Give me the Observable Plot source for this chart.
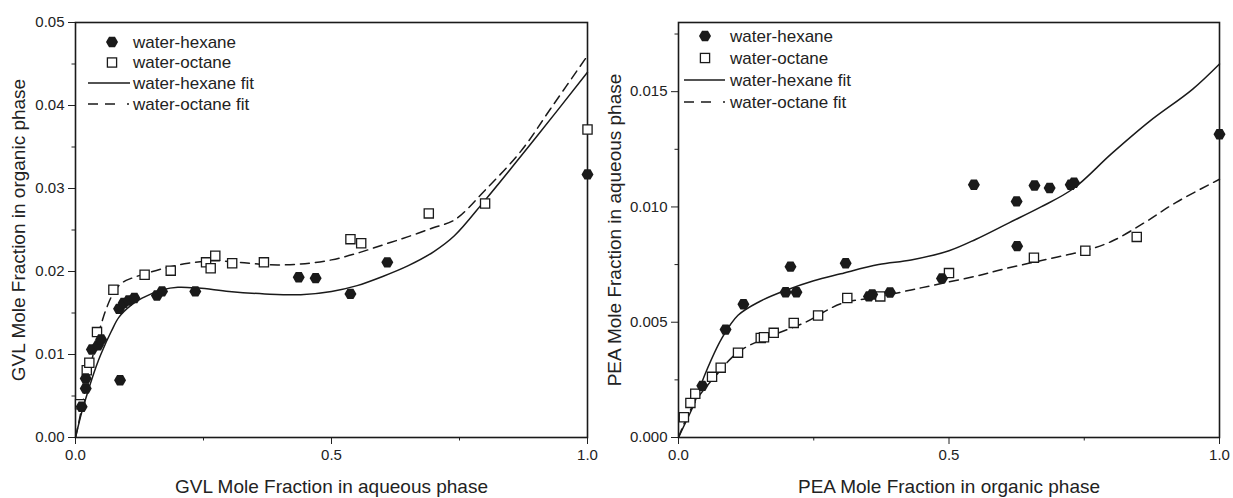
<!DOCTYPE html>
<html><head><meta charset="utf-8">
<script src="https://cdn.jsdelivr.net/npm/d3@7"></script>
<script src="https://cdn.jsdelivr.net/npm/@observablehq/plot@0.6"></script>
<style>
body{margin:0;background:#fff;}
#wrap{position:relative;width:1233px;height:498px;overflow:hidden;font-family:"Liberation Sans",Arial,sans-serif;background:#fff;}
.panel{position:absolute;top:0;}
.legend{position:absolute;top:0;overflow:visible;}
.legend text{font-family:"Liberation Sans",Arial,sans-serif;font-size:17px;fill:#222;}
</style></head>
<body><div id="wrap"></div>
<script>
// ---------- Left panel: GVL ----------
const gvlHexX = [0.012,0.020,0.020,0.032,0.044,0.050,0.087,0.085,0.094,0.104,0.115,0.159,0.169,0.234,0.436,0.469,0.537,0.609,1.0];
const gvlHexY = [0.0037,0.0059,0.0071,0.0106,0.0111,0.0118,0.0069,0.0155,0.0162,0.0165,0.0168,0.0171,0.0176,0.0176,0.0193,0.0192,0.0173,0.0211,0.0317];
const gvlOctX = [0.009,0.022,0.027,0.042,0.074,0.135,0.186,0.255,0.264,0.273,0.306,0.368,0.537,0.558,0.690,0.800,1.0];
const gvlOctY = [0.0040,0.0081,0.0090,0.0127,0.0178,0.0196,0.0201,0.0211,0.0204,0.0219,0.0210,0.0211,0.0239,0.0234,0.0270,0.0282,0.0371];
const gvlHexFitX = [0,0.005,0.012,0.025,0.04,0.05,0.07,0.085,0.11,0.13,0.17,0.2,0.24,0.3,0.37,0.44,0.5,0.55,0.6,0.65,0.7,0.74,0.8,0.9,1.0];
const gvlHexFitY = [0,0.0013,0.003,0.0057,0.0085,0.0101,0.0128,0.0145,0.0160,0.0168,0.0178,0.0181,0.0180,0.0176,0.0173,0.0172,0.0176,0.0183,0.0194,0.0207,0.0224,0.0243,0.0286,0.0362,0.0440];
const gvlOctFitX = [0,0.005,0.01,0.02,0.03,0.04,0.05,0.06,0.074,0.09,0.11,0.14,0.18,0.22,0.27,0.32,0.38,0.44,0.5,0.55,0.6,0.65,0.7,0.74,0.8,0.87,0.93,1.0];
const gvlOctFitY = [0,0.0014,0.0029,0.0060,0.0088,0.0114,0.0136,0.0155,0.0174,0.0186,0.0192,0.0198,0.0205,0.0210,0.0213,0.0211,0.0208,0.0209,0.0214,0.0222,0.0232,0.0242,0.0253,0.0262,0.0298,0.0345,0.0398,0.0460];
const gvlYTicks = [0,0.01,0.02,0.03,0.04,0.05];
const gvlYMinor = [0.005,0.015,0.025,0.035,0.045];

// ---------- Right panel: PEA ----------
const peaHexX = [0.044,0.087,0.120,0.198,0.207,0.218,0.309,0.352,0.358,0.391,0.487,0.546,0.625,0.626,0.658,0.686,0.725,0.731,1.0];
const peaHexY = [0.00224,0.00468,0.00578,0.00630,0.00741,0.00630,0.00756,0.00612,0.00620,0.00629,0.00690,0.01096,0.01024,0.00830,0.01093,0.01082,0.01096,0.01105,0.01315];
const peaOctX = [0.010,0.022,0.031,0.062,0.078,0.110,0.152,0.158,0.176,0.213,0.258,0.312,0.373,0.500,0.657,0.752,0.847];
const peaOctY = [0.00088,0.00150,0.00190,0.00263,0.00303,0.00368,0.00432,0.00435,0.00454,0.00497,0.00529,0.00605,0.00612,0.00713,0.00780,0.00810,0.00870];
const peaHexFitX = [0,0.01,0.026,0.05,0.08,0.11,0.15,0.2,0.25,0.3,0.37,0.43,0.5,0.55,0.61,0.67,0.73,0.8,0.87,0.95,1.0];
const peaHexFitY = [0,0.0005,0.0013,0.0028,0.0043,0.0053,0.0059,0.0064,0.0068,0.0071,0.0075,0.0077,0.0081,0.0086,0.0093,0.0100,0.0108,0.0123,0.0137,0.0151,0.0162];
const peaOctFitX = [0,0.0074,0.02,0.038,0.066,0.11,0.16,0.235,0.3,0.37,0.43,0.47,0.55,0.6,0.675,0.75,0.8,0.86,0.92,1.0];
const peaOctFitY = [0,0.00044,0.0011,0.0018,0.0026,0.0037,0.0043,0.0050,0.0058,0.0061,0.0064,0.0066,0.0070,0.0073,0.0077,0.0081,0.0085,0.0093,0.0102,0.0112];
const peaYTicks = [0,0.005,0.010,0.015];
const peaYMinor = [0.0025,0.0075,0.0125,0.0175];

const xTicks = [0,0.5,1.0];
const xMinor = [0.25,0.75];
const legendLabels = ["water-hexane","water-octane","water-hexane fit","water-octane fit"];

// symbols
const hexFlat = {draw(ctx,size){const r=Math.sqrt(size/Math.PI);for(let i=0;i<6;i++){const a=i*Math.PI/3,x=r*Math.cos(a),y=r*Math.sin(a);i?ctx.lineTo(x,y):ctx.moveTo(x,y);}ctx.closePath();}};
const sq = {draw(ctx,size){const r=Math.sqrt(size/Math.PI);ctx.rect(-r,-r,2*r,2*r);}};

const zip = (xs,ys)=>xs.map((x,i)=>({x,y:ys[i]}));
const INK = "#1a1a1a";

function panel(o){
  return Plot.plot({
    width:o.width, height:498,
    marginLeft:o.ml, marginRight:o.mr, marginTop:22, marginBottom:61,
    style:{fontFamily:"Liberation Sans, Arial, sans-serif", fontSize:"15px", color:"#222", background:"white", overflow:"visible"},
    x:{domain:[0,1]},
    y:{domain:o.yDomain},
    marks:[
      Plot.axisX({ticks:xTicks, tickFormat:d3.format(".1f"), tickSize:7, tickPadding:5, label:null}),
      Plot.axisX({ticks:xMinor, tickFormat:()=>"", tickSize:3.5, label:null}),
      Plot.axisY({ticks:o.yTicks, tickFormat:d3.format(o.fmt), tickSize:7, tickPadding:4, label:null}),
      Plot.axisY({ticks:o.yMinor, tickFormat:()=>"", tickSize:3.5, label:null}),
      Plot.frame({stroke:INK, strokeWidth:1.6}),
      Plot.line(zip(o.hexFitX,o.hexFitY),{x:"x",y:"y",stroke:INK,strokeWidth:1.5,curve:"catmull-rom"}),
      Plot.line(zip(o.octFitX,o.octFitY),{x:"x",y:"y",stroke:INK,strokeWidth:1.5,strokeDasharray:"9,6",curve:"catmull-rom"}),
      Plot.dot(zip(o.octX,o.octY),{x:"x",y:"y",symbol:sq,r:4.6,fill:"white",stroke:INK,strokeWidth:1.3}),
      Plot.dot(zip(o.hexX,o.hexY),{x:"x",y:"y",symbol:hexFlat,r:6,fill:INK,stroke:"none"}),
      Plot.text([o.xLabel],{frameAnchor:"bottom",dy:55,lineAnchor:"bottom",textAnchor:"middle",fontSize:19,fill:"#222"}),
      Plot.text([o.yLabel],{frameAnchor:"left",dx:o.yLabDx,rotate:-90,textAnchor:"middle",lineAnchor:"middle",fontSize:19,fill:"#222"})
    ]
  });
}

function legend(left, o){
  const ns="http://www.w3.org/2000/svg";
  const svg=document.createElementNS(ns,"svg");
  svg.setAttribute("class","legend");
  svg.setAttribute("width",300);svg.setAttribute("height",130);
  svg.style.left=left+"px";
  const rows=o.rows;
  let s="";
  const hp=[];for(let i=0;i<6;i++){const a=i*Math.PI/3;hp.push([o.mx+6*Math.cos(a),rows[0]+6*Math.sin(a)].join(","));}
  s+=`<polygon points="${hp.join(" ")}" fill="${INK}"/>`;
  s+=`<rect x="${o.mx-4.6}" y="${rows[1]-4.6}" width="9.2" height="9.2" fill="white" stroke="${INK}" stroke-width="1.3"/>`;
  s+=`<line x1="${o.l0}" x2="${o.l1}" y1="${rows[2]}" y2="${rows[2]}" stroke="${INK}" stroke-width="1.5"/>`;
  s+=`<line x1="${o.l0}" x2="${o.l1}" y1="${rows[3]}" y2="${rows[3]}" stroke="${INK}" stroke-width="1.5" stroke-dasharray="10,7,10,12,2"/>`;
  legendLabels.forEach((t,i)=>{s+=`<text x="${o.tx}" y="${rows[i]}" dy="0.35em">${t}</text>`;});
  svg.innerHTML=s;
  return svg;
}

const wrap=document.getElementById("wrap");
const left=panel({width:600, ml:75, mr:13, yDomain:[0,0.05], yTicks:gvlYTicks, yMinor:gvlYMinor, fmt:".2f",
  hexX:gvlHexX,hexY:gvlHexY,octX:gvlOctX,octY:gvlOctY,hexFitX:gvlHexFitX,hexFitY:gvlHexFitY,octFitX:gvlOctFitX,octFitY:gvlOctFitY,
  xLabel:"GVL Mole Fraction in aqueous phase", yLabel:"GVL Mole Fraction in organic phase", yLabDx:-57});
left.classList.add("panel"); left.style.left="0px";
const right=panel({width:633, ml:78, mr:14, yDomain:[0,0.0180], yTicks:peaYTicks, yMinor:peaYMinor, fmt:".3f",
  hexX:peaHexX,hexY:peaHexY,octX:peaOctX,octY:peaOctY,hexFitX:peaHexFitX,hexFitY:peaHexFitY,octFitX:peaOctFitX,octFitY:peaOctFitY,
  xLabel:"PEA Mole Fraction in organic phase", yLabel:"PEA Mole Fraction in aqueous phase", yLabDx:-64});
right.classList.add("panel"); right.style.left="600px";
wrap.appendChild(left); wrap.appendChild(right);
wrap.appendChild(legend(0,{rows:[42,62.5,83,104], mx:112, l0:88, l1:130, tx:133}));
wrap.appendChild(legend(600,{rows:[36,58,80,102], mx:105, l0:84, l1:125, tx:130}));
</script></body></html>
